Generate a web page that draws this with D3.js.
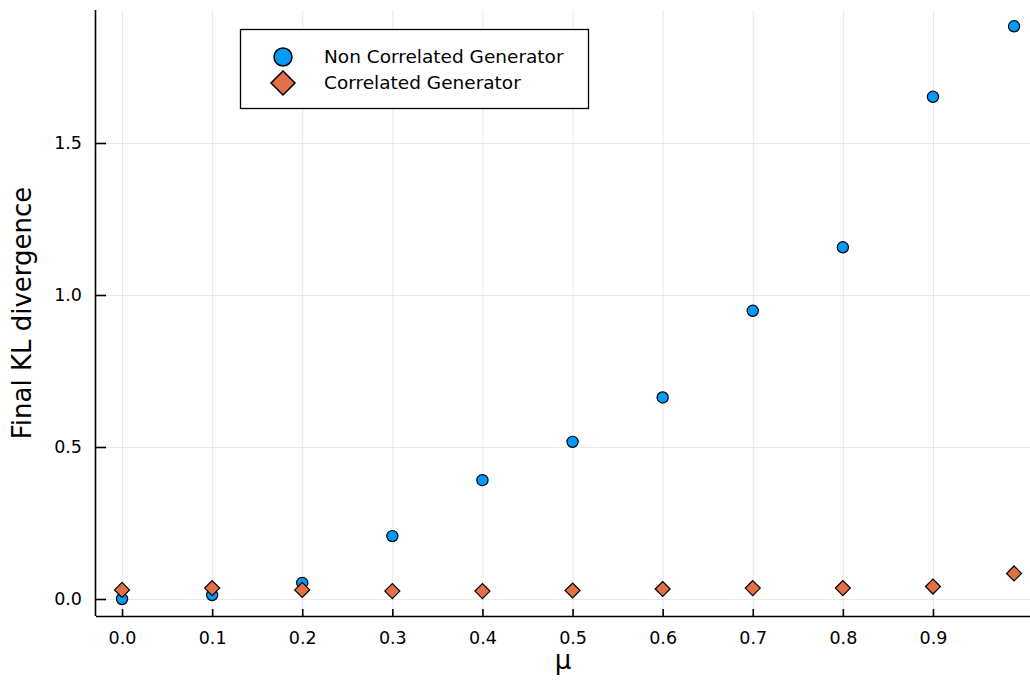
<!DOCTYPE html>
<html>
<head>
<meta charset="utf-8">
<script src="https://cdn.jsdelivr.net/npm/d3@7"></script>
<style>
  html, body { margin: 0; padding: 0; background: #fff; }
  svg { display: block; font-family: "DejaVu Sans", sans-serif; }
</style>
</head>
<body>
<svg id="chart" width="1030" height="684"></svg>
<script>
// μ values at which each generator was evaluated
const mu = [0.0, 0.1, 0.2, 0.3, 0.4, 0.5, 0.6, 0.7, 0.8, 0.9, 0.99];
// final KL divergence per generator
const nonCorrelated = [0.0, 0.013, 0.053, 0.207, 0.391, 0.517, 0.663, 0.948, 1.157, 1.652, 1.884];
const correlated    = [0.030, 0.036, 0.030, 0.026, 0.026, 0.028, 0.033, 0.036, 0.036, 0.041, 0.084];
const seriesNames = ["Non Correlated Generator", "Correlated Generator"];
const xTicks = [0.0, 0.1, 0.2, 0.3, 0.4, 0.5, 0.6, 0.7, 0.8, 0.9];
const yTicks = [0.0, 0.5, 1.0, 1.5];

const blue = "#009AFA", orange = "#E26F46";
const svg = d3.select("#chart");
const plot = { left: 96, right: 1030, top: 10, bottom: 616 };

const x = d3.scaleLinear().domain([-0.0289, 1.0077]).range([plot.left, plot.right]);
const y = d3.scaleLinear().domain([-0.0559, 1.9375]).range([plot.bottom, plot.top]);

// grid lines
svg.append("g")
  .attr("transform", `translate(0,${plot.bottom})`)
  .call(d3.axisBottom(x).tickValues(xTicks).tickSize(-(plot.bottom - plot.top)).tickFormat(""))
  .call(g => g.select(".domain").remove())
  .call(g => g.selectAll("line").attr("stroke", "#000").attr("stroke-opacity", 0.09));
svg.append("g")
  .attr("transform", `translate(${plot.left},0)`)
  .call(d3.axisLeft(y).tickValues(yTicks).tickSize(-(plot.right - plot.left)).tickFormat(""))
  .call(g => g.select(".domain").remove())
  .call(g => g.selectAll("line").attr("stroke", "#000").attr("stroke-opacity", 0.09));

// axes with inward ticks
const xAxis = svg.append("g")
  .attr("transform", `translate(0,${plot.bottom})`)
  .call(d3.axisBottom(x).tickValues(xTicks).tickSizeInner(-7).tickSizeOuter(0).tickPadding(16).tickFormat(d3.format(".1f")));
const yAxis = svg.append("g")
  .attr("transform", `translate(${plot.left},0)`)
  .call(d3.axisLeft(y).tickValues(yTicks).tickSizeInner(-10).tickSizeOuter(0).tickPadding(14).tickFormat(d3.format(".1f")));
[xAxis, yAxis].forEach(g => {
  g.attr("font-family", null).attr("font-size", null);
  g.selectAll("text").attr("font-size", 17.5).attr("fill", "#000");
  g.selectAll("line").attr("stroke", "#000").attr("stroke-width", 1.6);
  g.select(".domain").attr("stroke", "#000").attr("stroke-width", 1.6);
});
xAxis.select(".domain").attr("d", `M${plot.left},0.5H${plot.right}`);
yAxis.select(".domain").attr("d", `M-0.5,${plot.top}V${plot.bottom}`);

// axis titles
svg.append("text")
  .attr("x", (plot.left + plot.right) / 2).attr("y", 669)
  .attr("text-anchor", "middle").attr("font-size", 26).text("μ");
svg.append("text")
  .attr("transform", `translate(31,${(plot.top + plot.bottom) / 2}) rotate(-90)`)
  .attr("text-anchor", "middle").attr("font-size", 26).text("Final KL divergence");

const diamond = r => `M0,${-r}L${r},0L0,${r}L${-r},0Z`;

// non-correlated generator (circles)
svg.append("g").selectAll("circle").data(mu.map((m, i) => [m, nonCorrelated[i]]))
  .join("circle")
  .attr("cx", d => x(d[0])).attr("cy", d => y(d[1])).attr("r", 5.6)
  .attr("fill", blue).attr("stroke", "#000").attr("stroke-width", 1.2);

// correlated generator (diamonds), drawn on top
svg.append("g").selectAll("path").data(mu.map((m, i) => [m, correlated[i]]))
  .join("path")
  .attr("transform", d => `translate(${x(d[0])},${y(d[1])})`)
  .attr("d", diamond(7.5))
  .attr("fill", orange).attr("stroke", "#000").attr("stroke-width", 1.2);

// legend
const legend = svg.append("g");
legend.append("rect").attr("x", 240.5).attr("y", 29.5).attr("width", 348).attr("height", 79)
  .attr("fill", "#fff").attr("stroke", "#000").attr("stroke-width", 1.3);
legend.append("circle").attr("cx", 283).attr("cy", 57).attr("r", 9)
  .attr("fill", blue).attr("stroke", "#000").attr("stroke-width", 1.5);
legend.append("path").attr("transform", "translate(283,83)").attr("d", diamond(12))
  .attr("fill", orange).attr("stroke", "#000").attr("stroke-width", 1.5);
legend.selectAll("text.lbl").data(seriesNames).join("text")
  .attr("class", "lbl")
  .attr("x", 324).attr("y", (d, i) => 57 + i * 26).attr("dy", "0.35em")
  .attr("font-size", 18.5).text(d => d);
</script>
</body>
</html>
